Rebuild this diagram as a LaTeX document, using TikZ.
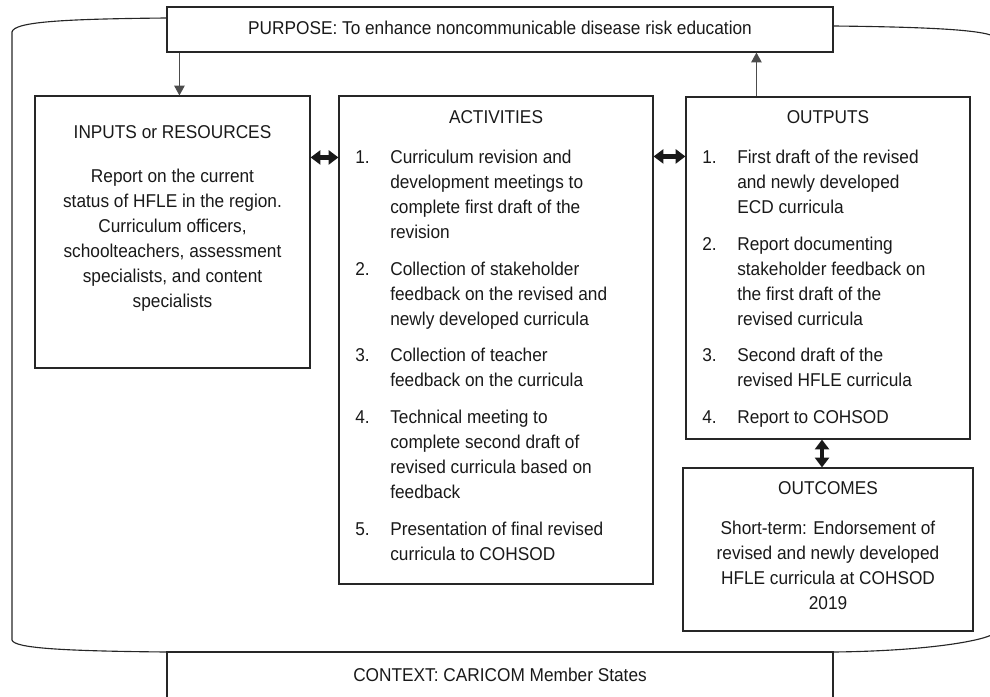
\documentclass[tikz,border=0pt]{standalone}
\usepackage{fontspec}
\setmainfont{Liberation Sans}[FakeStretch=0.93]
\usetikzlibrary{arrows.meta,positioning,fit,calc}

\newcommand{\lmgap}{0.2875cm}

\tikzset{
    box/.style={draw=black!85, line width=0.8pt, inner sep=0pt},
    txt/.style={inner sep=0pt, text=black!90},
    arr/.style={draw=black!70, line width=0.7pt, -{Triangle[length=7pt,width=7.5pt]}},
    dbl/.style={draw=black!90, line width=3.5pt,
        {Triangle[length=7pt,width=10pt]}-{Triangle[length=7pt,width=10pt]}},
    frame/.style={draw=black!85, line width=0.8pt}
}

\begin{document}
\begin{tikzpicture}[x=0.025cm, y=-0.025cm,
    every node/.style={font=\fontsize{13.2pt}{17.8pt}\selectfont}]
    \clip (0,0) rectangle (990,696);

    % Purpose and context
    \node[box, fit={(167,7) (833,52)}] (purpose) {};
    \node[txt, anchor=base] (purposeText) at (500,34.2)
        {PURPOSE: To enhance noncommunicable disease risk education};
    \node[box, fit={(167,652) (833,700)}] (context) {};
    \node[txt, anchor=base] (contextText) at (500,681.7)
        {CONTEXT: CARICOM Member States};

    % Enclosing brackets
    \draw[frame] (167,18) .. controls (60,19) and (14,22) .. (12,32)
        -- (12,640) .. controls (14,648) and (60,651) .. (167,652);
    \draw[frame] (833,26) .. controls (930,27) and (990,30) .. (996,38)
        -- (996,632) .. controls (990,640) and (930,651) .. (833,652);

    % Boxes
    \node[box, fit={(35,96) (310,368)}] (inputs) {};
    \node[box, fit={(339,96) (653,584)}] (act) {};
    \node[box, fit={(686,97) (970,439)}] (outputs) {};
    \node[box, fit={(683,468) (973,631)}] (outcomes) {};

    % Inputs text
    \node[txt, anchor=base] (inputsText) at (172.5,138.7) {\begin{tabular}[t]{@{}c@{}}
        INPUTS or RESOURCES\\[0.475cm]
        Report on the current\\
        status of HFLE in the region.\\
        Curriculum officers,\\
        schoolteachers, assessment\\
        specialists, and content\\
        specialists
    \end{tabular}};

    % Activities text
    \node[txt, anchor=base] (actTitle) at (496,123.7) {ACTIVITIES};
    \node[txt, anchor=base west] (actList) at (355,163.7) {\begin{tabular}[t]{@{}p{0.875cm}@{}l@{}}
        1. & Curriculum revision and\\
           & development meetings to\\
           & complete first draft of the\\
           & revision\\[\lmgap]
        2. & Collection of stakeholder\\
           & feedback on the revised and\\
           & newly developed curricula\\[\lmgap]
        3. & Collection of teacher\\
           & feedback on the curricula\\[\lmgap]
        4. & Technical meeting to\\
           & complete second draft of\\
           & revised curricula based on\\
           & feedback\\[\lmgap]
        5. & Presentation of final revised\\
           & curricula to COHSOD
    \end{tabular}};

    % Outputs text
    \node[txt, anchor=base] (outTitle) at (828,123.7) {OUTPUTS};
    \node[txt, anchor=base west] (outList) at (702,163.7) {\begin{tabular}[t]{@{}p{0.875cm}@{}l@{}}
        1. & First draft of the revised\\
           & and newly developed\\
           & ECD curricula\\[\lmgap]
        2. & Report documenting\\
           & stakeholder feedback on\\
           & the first draft of the\\
           & revised curricula\\[\lmgap]
        3. & Second draft of the\\
           & revised HFLE curricula\\[\lmgap]
        4. & Report to COHSOD
    \end{tabular}};

    % Outcomes text
    \node[txt, anchor=base] (outcText) at (828,494.7) {\begin{tabular}[t]{@{}c@{}}
        OUTCOMES\\[0.375cm]
        Short-term: Endorsement of\\
        revised and newly developed\\
        HFLE curricula at COHSOD\\
        2019
    \end{tabular}};

    % Connectors
    \coordinate (inTop) at ($(inputs.north west)+(145,0)$);
    \coordinate (outTop) at ($(outputs.north west)+(71,0)$);
    \coordinate (outBot) at ($(outputs.south)+(-6,0)$);
    \draw[arr] (purpose.south -| inTop) -- (inTop);
    \draw[arr] (outTop) -- (outTop |- purpose.south);

    \draw[dbl] ($(inputs.north east)+(0,62)$) -- ($(act.north west)+(0,62)$);
    \draw[dbl] ($(act.north east)+(0,61)$) -- ($(outputs.north west)+(0,60)$);
    \draw[dbl] (outBot) -- (outBot |- outcomes.north);
\end{tikzpicture}
\end{document}
